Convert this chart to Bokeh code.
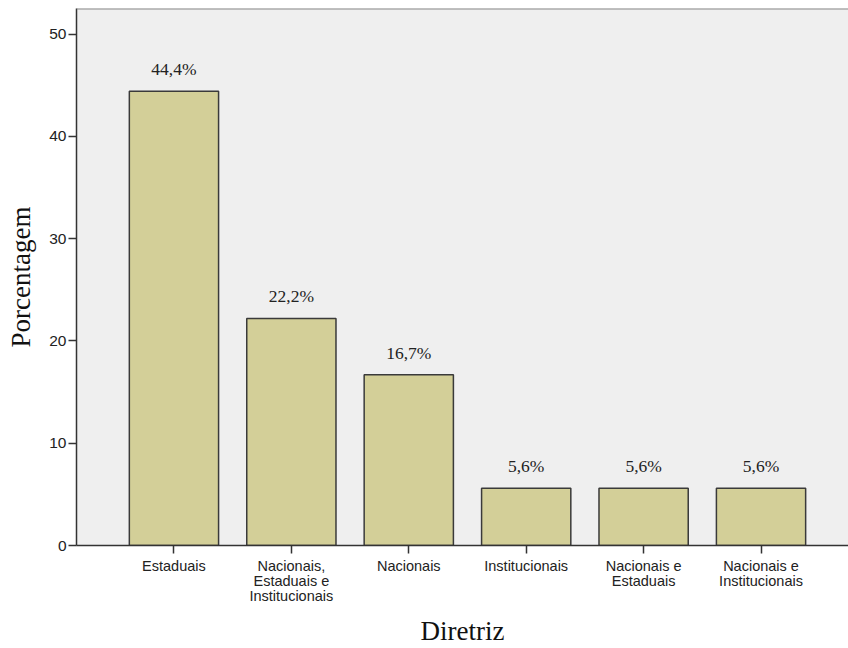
from bokeh.plotting import figure
from bokeh.models import ColumnDataSource, Range1d, FixedTicker, Span
from bokeh.embed import file_html
from bokeh.resources import INLINE

categories = ["Estaduais", "Nacionais,\nEstaduais e\nInstitucionais", "Nacionais",
              "Institucionais", "Nacionais e\nEstaduais", "Nacionais e\nInstitucionais"]
percent = [44.4, 22.2, 16.7, 5.6, 5.6, 5.6]
y_ticks = [0, 10, 20, 30, 40, 50]

xs = list(range(len(categories)))
labels = [f"{v:.1f}%".replace(".", ",") for v in percent]
src = ColumnDataSource(dict(x=xs, top=percent, label=labels))

p = figure(width=848, height=648, output_backend="svg", toolbar_location=None,
           x_range=Range1d(-0.83, 5.745), y_range=Range1d(0, 52.5),
           min_border_left=76, min_border_right=0, min_border_top=8, min_border_bottom=103)
p.background_fill_color = "#efefef"
p.border_fill_color = "white"
p.outline_line_color = None
p.grid.visible = False

p.vbar(x="x", top="top", width=0.76, source=src, fill_color="#d3cf98",
       line_color="#3a3a3a", line_width=1.5)
p.text(x="x", y="top", text="label", source=src, text_align="center",
       text_baseline="bottom", y_offset=-12, text_font="Liberation Serif",
       text_font_size="17.5px", text_color="#222222")

p.add_layout(Span(location=52.5, dimension="width", line_color="#888888", line_width=2))

p.xaxis.ticker = FixedTicker(ticks=xs)
p.xaxis.major_label_overrides = {i: c for i, c in enumerate(categories)}
p.yaxis.ticker = FixedTicker(ticks=y_ticks)

for ax in (p.xaxis, p.yaxis):
    ax.axis_line_color = "#333333"
    ax.axis_line_width = 1.5
    ax.major_tick_line_color = "#333333"
    ax.major_tick_line_width = 1.5
    ax.major_tick_out = 8
    ax.major_tick_in = 0
    ax.minor_tick_line_color = None
    ax.major_label_text_font = "Liberation Sans"
    ax.major_label_text_font_size = "14.5px"
    ax.major_label_text_line_height = 0.95
    ax.major_label_text_color = "#222222"
    ax.axis_label_text_font = "Liberation Serif"
    ax.axis_label_text_font_size = "27px"
    ax.axis_label_text_font_style = "normal"
    ax.axis_label_text_color = "#111111"

p.yaxis.major_label_text_font_size = "15.5px"
p.xaxis.axis_label = "Diretriz"
p.yaxis.axis_label = "Porcentagem"
p.xaxis.major_label_standoff = 4
p.yaxis.major_label_standoff = 2
p.xaxis.axis_label_standoff = 9
p.yaxis.axis_label_standoff = 10

open("out.html", "w").write(file_html(p, INLINE))
